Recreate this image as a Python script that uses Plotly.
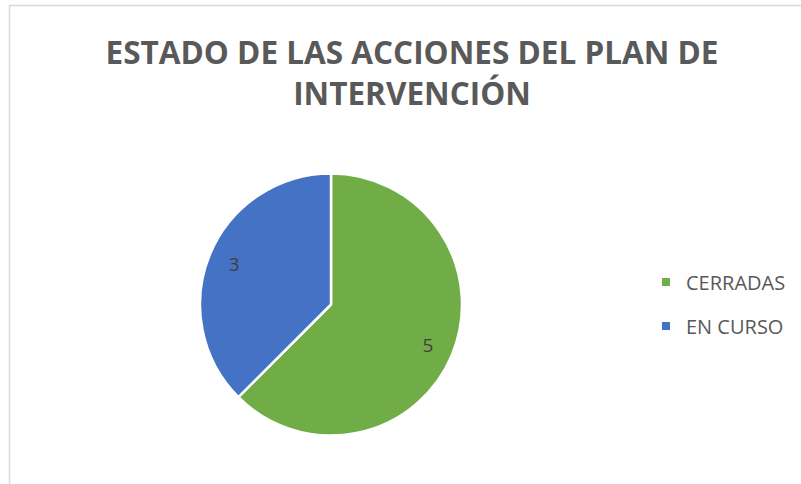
import plotly.graph_objects as go

labels = ["CERRADAS", "EN CURSO"]
values = [5, 3]
colors = ["#70AD47", "#4472C4"]
title_text = "ESTADO DE LAS ACCIONES DEL PLAN DE<br>INTERVENCIÓN"

W, H = 801, 484
cx, cy, r = 331, 304.5, 131
dom = dict(x=[(cx - r) / W, (cx + r) / W], y=[1 - (cy + r) / H, 1 - (cy - r) / H])

fig = go.Figure()
# full pie (slices)
fig.add_trace(go.Pie(
    labels=labels, values=values, sort=False, direction="clockwise", rotation=0,
    marker=dict(colors=colors, line=dict(color="white", width=2.5)),
    textinfo="none", domain=dom, showlegend=False, hoverinfo="label+value",
))
# transparent ring carrying the data labels (positions them at ~0.8 r)
fig.add_trace(go.Pie(
    labels=labels, values=values, sort=False, direction="clockwise", rotation=0,
    hole=0.6,
    marker=dict(colors=["rgba(0,0,0,0)"] * len(values), line=dict(width=0)),
    textinfo="value", textposition="inside", insidetextorientation="horizontal",
    textfont=dict(family="Open Sans", size=19, color="#404040"),
    domain=dom, showlegend=False, hoverinfo="skip",
))
# legend entries
for i, (lab, col) in enumerate(zip(labels, colors)):
    fig.add_trace(go.Scatter(
        x=[None], y=[None], mode="markers", name=lab, legendgroup=lab,
        marker=dict(symbol="square", size=8, color=col), showlegend=True,
    ))

fig.update_layout(
    width=W, height=H,
    margin=dict(l=0, r=0, t=0, b=0),
    paper_bgcolor="white",
    plot_bgcolor="rgba(0,0,0,0)",
    xaxis=dict(visible=False), yaxis=dict(visible=False),
    title=dict(
        text=title_text,
        x=412 / W, xanchor="center",
        y=1 - 64 / H, yanchor="middle",
        font=dict(family="Open Sans", size=31.5, color="#595959", weight="bold"),
    ),
    legend=dict(
        x=646 / W, xanchor="left",
        y=1 - 304 / H, yanchor="middle",
        font=dict(family="Open Sans", size=20, color="#595959"),
        traceorder="grouped",
        tracegroupgap=15,
        itemwidth=30,
    ),
    shapes=[
        dict(type="path", xref="paper", yref="paper",
             path=f"M {9.5/W} 0 L {9.5/W} {1-5.5/H} L 1.01 {1-5.5/H}",
             line=dict(color="#D9D9D9", width=1.5)),
    ],
)

fig.write_html(
    "out.html",
    config={"displayModeBar": False},
    post_script="document.body.style.margin='0';document.body.style.overflow='hidden';",
)
